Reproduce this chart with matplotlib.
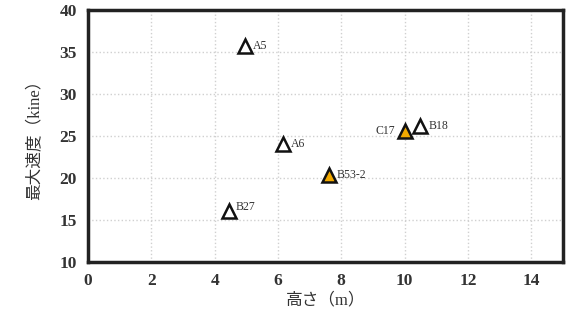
import matplotlib
matplotlib.use("Agg")
import matplotlib.pyplot as plt

# heights (m) and peak velocities (kine) per site
sites = ["A5", "A6", "B53-2", "B27", "C17", "B18"]
height = [4.95, 6.15, 7.6, 4.45, 10.0, 10.5]
velocity = [35.7, 24.0, 20.4, 16.1, 25.6, 26.2]
highlight = [False, False, True, False, True, False]

plt.rcParams['font.family'] = ['Liberation Serif', 'Noto Sans CJK JP']

fig = plt.figure(figsize=(5.68, 3.2), dpi=100)
ax = fig.add_axes([0.155, 0.181, 0.836, 0.788])

for x, y, name, hl in zip(height, velocity, sites, highlight):
    ax.plot(x, y, marker='^', markersize=10, markeredgewidth=1.8,
            markeredgecolor='#111111',
            markerfacecolor='#f2a900' if hl else 'white',
            linestyle='none', zorder=3)
    if name == "C17":
        ax.annotate(name, (x, y), xytext=(-7, 0), textcoords='offset points',
                    ha='right', va='center', fontsize=8.5, color='#333333')
    elif name == "B27":
        ax.annotate(name, (x, y), xytext=(5, 3), textcoords='offset points',
                    ha='left', va='center', fontsize=8.5, color='#333333')
    else:
        ax.annotate(name, (x, y), xytext=(6, 0), textcoords='offset points',
                    ha='left', va='center', fontsize=8.5, color='#333333')

ax.set_xlim(0, 15)
ax.set_ylim(10, 40)
ax.set_xticks(range(0, 15, 2))
ax.set_yticks(range(10, 41, 5))
ax.tick_params(length=0, labelsize=12.5, labelcolor='#333333', pad=8)
for lab in ax.get_xticklabels() + ax.get_yticklabels():
    lab.set_fontweight('bold')

ax.grid(True, linestyle=':', color='#d0d0d0', linewidth=1)
for side in ax.spines.values():
    side.set_linewidth(2.5)
    side.set_color('#222222')

ax.set_xlabel('高さ（m）', fontsize=12, color='#333333', labelpad=2)
ax.set_ylabel('最大速度（kine）', fontsize=12, color='#333333', labelpad=12)

fig.savefig('out.png', dpi=100)
